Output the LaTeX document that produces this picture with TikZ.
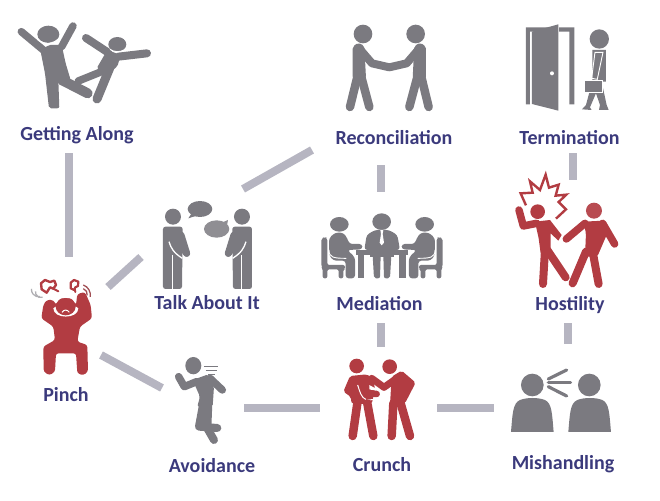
\documentclass[tikz,border=0pt]{standalone}
\usepackage{fontspec}
\setmainfont{Carlito}
\definecolor{ink}{HTML}{3B3A7C}
\definecolor{gfig}{HTML}{7B7A80}
\definecolor{gfigl}{HTML}{8F8E93}
\definecolor{rfig}{HTML}{B23C42}
\definecolor{barc}{HTML}{B6B5C1}
\tikzset{
 lab/.style={text=ink,font=\fontsize{20}{20}\selectfont\bfseries,anchor=base,inner sep=0pt},
 bar/.style={draw=barc,line width=8pt},
 zoomed/.style 2 args={shift={(#1pt,-#2pt)},x=0.3333pt,y=-0.3333pt},
 lb/.style={line width=#1*1pt,line cap=round,line join=round},
}
\begin{document}
\begin{tikzpicture}[x=1pt,y=-1pt]
\useasboundingbox (0,0) rectangle (660,500);
% labels
\node[lab] (along) at (77,140) {Getting Along};
\node[lab] (recon) at (394,144) {Reconciliation};
\node[lab] (term) at (569.5,144) {Termination};
\node[lab] (talk) at (207,309) {Talk About It};
\node[lab] (medi) at (379.5,310) {Mediation};
\node[lab] (host) at (570,310) {Hostility};
\node[lab] (pinch) at (66,401) {Pinch};
\node[lab] (avoid) at (212,472) {Avoidance};
\node[lab] (crunch) at (382,471) {Crunch};
\node[lab] (mish) at (563,469) {Mishandling};
% connector ends
\coordinate (a1) at (69,153); \coordinate (a2) at (69,257);
\coordinate (b1) at (108,287); \coordinate (b2) at (141,257);
\coordinate (c1) at (243,189); \coordinate (c2) at (312,150);
\coordinate (d1) at (101,355); \coordinate (d2) at (162,388);
\coordinate (e1) at (244,407.7); \coordinate (e2) at (320,407.7);
\coordinate (f1) at (437,407.7); \coordinate (f2) at (494,407.7);
\coordinate (g1) at (381,323); \coordinate (g2) at (381,347);
\coordinate (h1) at (381,165); \coordinate (h2) at (381,192);
\coordinate (i1) at (573.3,153); \coordinate (i2) at (573.3,180);
\coordinate (j1) at (568,323); \coordinate (j2) at (568,344);
\draw[bar] (a1)--(a2); \draw[bar] (b1)--(b2); \draw[bar] (c1)--(c2);
\draw[bar] (d1)--(d2); \draw[bar] (e1)--(e2); \draw[bar] (f1)--(f2);
\draw[bar] (g1)--(g2); \draw[bar] (h1)--(h2); \draw[bar] (i1)--(i2); \draw[bar] (j1)--(j2);
% Getting Along
\begin{scope}[zoomed={0}{0}]
 \fill[gfig] (145,103) ellipse (33 and 26);
 \fill[gfig] (352,133) ellipse (27 and 22);
 \draw[gfig,lb=7.5] (64,95)--(130,150);
 \draw[gfig,lb=7.5] (219,78)--(185,140);
 \fill[gfig,rounded corners=2pt] (122,155)--(145,135)--(185,135)--(197,190)--(212,240)--(175,240)--(178,325)--(147,325)--(135,220)--cycle;
 \draw[white,line width=1pt] (112,118) .. controls (130,135) and (160,135) .. (180,112);
 \draw[gfig,lb=10] (185,240)--(263,280);
 \draw[gfig,lb=8] (258,114)--(325,158);
 \draw[gfig,lb=8] (355,170)--(441,160);
 \fill[gfig,rounded corners=2pt] (322,150)--(362,165)--(352,200)--(312,228)--(290,205)--cycle;
 \draw[gfig,lb=7.5] (235,243)--(312,212);
 \draw[gfig,lb=9] (335,190)--(291,297);
 \draw[white,line width=1pt] (330,148) .. controls (340,156) and (360,158) .. (372,150);
\end{scope}
% Pinch
\begin{scope}[zoomed={0}{190}]
 \fill[rfig,rounded corners=2.5pt] (124,385)--(130,345)--(140,330)--(160,330)--(168,345)--(180,325)--(215,325)--(228,345)--(232,312)--(255,306)--(272,345)--(276,385)--(240,410)--(232,455)--(262,465)--(264,545)--(250,556)--(232,550)--(228,490)--(168,490)--(165,545)--(148,556)--(131,545)--(130,470)--(165,450)--(160,410)--cycle;
 \fill[white] (160,355) .. controls (160,388) and (235,388) .. (235,355) -- (228,350) -- (167,350) -- cycle;
 \fill[rfig] (197,350) ellipse (30 and 26);
 \draw[white,line width=1pt] (186,367) .. controls (192,358) and (202,358) .. (208,367);
 \draw[rfig,line width=2.4pt,line join=round] (123,280)--(135,270)--(150,276)--(163,272)--(168,285)--(160,296)--(150,292)--(140,308)--(125,298)--cycle;
 \draw[rfig,line width=2pt,line cap=round] (160,296)--(175,304);
 \draw[rfig,line width=2.2pt,line join=round] (212,278)--(222,270)--(235,275)--(234,288)--(226,292)--(222,300)--(212,295)--cycle;
 \draw[rfig,line width=2pt,line cap=round] (224,296)--(226,306);
 \draw[rfig!70!gfig,line width=1.3pt] (250,296) arc (-70:10:18);
 \draw[rfig!70!gfig,line width=1.3pt] (250,285) arc (-70:10:32);
 \draw[gfig!60,line width=1.3pt] (128,322) arc (70:190:16);
 \draw[gfig!60,line width=1.3pt] (120,320) arc (80:185:22);
\end{scope}
% Talk About It
\begin{scope}[zoomed={0}{190}]
 \foreach \c/\s in {519/1,726/-1}{
  \begin{scope}[shift={(\c*0.3333pt,0pt)},x=\s*0.3333pt]
   \fill[gfig] (0,80) circle (24);
   \fill[gfig,rounded corners=2.5pt] (-30,110)--(29,110)--(29,135)--(27,297)--(-30,297)--cycle;
   \draw[gfig,lb=7] (24,135)--(41,190);
   \draw[gfig,lb=7] (12,150)--(41,190);
   \draw[white,line width=1pt] (0,195)--(0,300);
   \draw[white,line width=1.3pt] (-12,155) .. controls (-6,175) and (2,188) .. (28,205);
  \end{scope}
 }
 \fill[gfig] (600,57) ellipse (37 and 24);
 \fill[gfig] (575,70)--(565,85)--(590,77)--cycle;
 \fill[gfigl] (650,117) ellipse (38 and 26);
 \fill[gfigl] (665,98)--(684,90)--(680,112)--cycle;
\end{scope}
% Avoidance
\begin{scope}[zoomed={0}{190}]
 \fill[gfig] (580,527) ellipse (24 and 26);
 \draw[gfig,line width=0.8pt] (612,530)--(653,530) (617,541)--(650,541) (625,552)--(645,552);
 \draw[gfig,lb=7.5] (536,560)--(553,590)--(590,575);
 \draw[gfig,lb=7.5] (630,565)--(667,600);
 \fill[gfig,rounded corners=2pt] (578,570)--(625,553)--(642,590)--(638,650)--(592,650)--(600,620)--cycle;
 \draw[gfig,lb=8] (610,640)--(597,710)--(652,714);
 \draw[gfig,lb=8] (625,640)--(622,715)--(642,750);
\end{scope}
% Reconciliation
\begin{scope}[zoomed={310}{10}]
 \foreach \c/\s in {0/1,476/-1}{
  \begin{scope}[shift={(\c*0.3333pt,0pt)},x=\s*0.3333pt]
   \fill[gfig] (159,72) circle (28);
   \fill[gfig,rounded corners=2pt] (128,110)--(145,98)--(163,108)--(168,205)--(128,205)--cycle;
   \draw[gfig,lb=8] (150,118)--(186,160)--(238,172);
   \draw[gfig,lb=8.5] (141,205)--(120,291);
   \draw[gfig,lb=8.5] (155,205)--(178,291);
  \end{scope}
 }
\end{scope}
% Termination
\begin{scope}[zoomed={310}{10}]
 \fill[gfig] (648,52)--(793,52)--(793,283)--(778,283)--(778,65)--(660,65)--(660,283)--(648,283)--cycle;
 \fill[white] (745,52) rectangle (748,65);
 \fill[gfig] (666,65)--(745,43)--(745,302)--(666,282)--cycle;
 \fill[white] (726,190) circle (6);
 \fill[gfig] (868,87) circle (29);
 \fill[gfig] (847,120)--(888,120)--(888,215)--(875,215)--(890,285)--(896,300)--(867,300)--(870,285)--(858,250)--(840,292)--(845,300)--(816,298)--(828,285)--(840,240)--(847,210)--cycle;
 \draw[white,line width=0.9pt] (855,127)--(879,127)--(862,208)--(845,205)--cycle;
 \fill[gfig,draw=white,line width=0.9pt] (823,210) rectangle (876,248);
\end{scope}
% Mediation
\begin{scope}[zoomed={310}{170}]
 \fill[gfig] (137,240) rectangle (295,256);
 \fill[gfig] (145,256) rectangle (163,325);
 \fill[gfig] (268,256) rectangle (287,325);
 \foreach \c/\s in {0/1,432/-1}{
  \begin{scope}[shift={(\c*0.3333pt,0pt)},x=\s*0.3333pt]
   \fill[gfig] (88,163) ellipse (28 and 22);
   \fill[gfig,rounded corners=2pt] (34,205)--(45,200)--(52,205)--(52,285)--(105,285)--(105,298)--(100,298)--(100,325)--(86,325)--(86,298)--(52,298)--(52,325)--(38,325)--(38,295)--(34,290)--cycle;
   \fill[gfig,rounded corners=3pt] (57,205)--(75,188)--(100,188)--(112,205)--(118,222)--(157,222)--(157,238)--(112,240)--(135,262)--(135,325)--(107,325)--(107,272)--(70,272)--(57,255)--cycle;
   \draw[white,line width=0.9pt,line cap=round] (57,240) .. controls (57,262) and (70,265) .. (108,265);
  \end{scope}
 }
 \fill[gfig] (215,155) ellipse (28 and 25);
 \fill[gfig,rounded corners=3pt] (163,240)--(170,195)--(195,180)--(237,180)--(262,195)--(270,240)--cycle;
 \fill[gfig] (180,240) rectangle (252,262);
 \fill[gfig,rounded corners=2pt] (188,256)--(212,256)--(210,325)--(192,325)--cycle;
 \fill[gfig,rounded corners=2pt] (220,256)--(244,256)--(240,325)--(222,325)--cycle;
 \fill[white] (211,180)--(220,180)--(218,192)--(222,218)--(215,226)--(209,218)--(213,192)--cycle;
\end{scope}
% Hostility
\begin{scope}[zoomed={310}{170}]
 \draw[rfig,line width=2.4pt,miter limit=10] (648,106)--(632,70)--(668,68)--(660,34)--(690,60)--(707,14)--(717,53)--(746,44)--(737,77)--(769,74)--(746,96)--(768,118)--(738,146);
 \fill[rfig] (683,125) circle (22);
 \draw[rfig,lb=7.5] (627,120)--(640,168)--(680,160);
 \fill[rfig] (675,155)--(720,150)--(755,195)--(745,212)--(722,190)--(722,250)--(692,250)--(686,205)--cycle;
 \draw[rfig,lb=8] (705,240)--(699,342);
 \draw[rfig,lb=8] (712,240)--(767,322);
 \fill[rfig!92!white] (852,122) circle (24);
 \fill[rfig,rounded corners=2pt] (820,155)--(880,152)--(890,195)--(862,260)--(825,260)--(828,190)--cycle;
 \draw[rfig,lb=7.5] (825,160)--(769,207);
 \draw[rfig,lb=7.5] (878,160)--(914,222);
 \draw[rfig,lb=8] (828,245)--(788,340);
 \draw[rfig,lb=8] (848,245)--(866,342);
\end{scope}
% Crunch
\begin{scope}[zoomed={310}{340}]
 \fill[rfig] (140,78) circle (22);
 \fill[rfig] (239,80) circle (22);
 \fill[rfig,rounded corners=2pt] (120,108)--(170,103)--(190,115)--(195,150)--(185,192)--(125,192)--(122,170)--(100,155)--cycle;
 \draw[rfig,lb=7] (185,115)--(222,142)--(270,108);
 \fill[white] (178,135) -- (205,150) -- (205,154) -- (178,148) -- cycle;
 \draw[rfig,lb=6.5] (160,158)--(200,162);
 \draw[white,line width=1pt] (143,135) .. controls (150,155) and (152,172) .. (170,180) -- (205,178);
 \draw[rfig,lb=8.5] (142,190)--(128,288);
 \draw[rfig,lb=8.5] (172,190)--(190,288);
 \fill[rfig,rounded corners=2pt] (245,110)--(275,92)--(317,128)--(285,190)--(240,195)--cycle;
 \draw[rfig,lb=8.5] (250,190)--(245,288);
 \draw[rfig,lb=8.5] (272,190)--(300,288);
\end{scope}
% Mishandling
\begin{scope}[zoomed={310}{340}]
 \fill[gfig] (667,135) circle (34);
 \fill[gfig] (838,135) circle (34);
 \fill[gfig] (603,276) .. controls (608,220) and (608,190) .. (630,180) .. controls (650,172) and (685,172) .. (705,180) .. controls (726,190) and (726,220) .. (731,276) -- cycle;
 \fill[gfig] (775,276) .. controls (780,220) and (780,190) .. (802,180) .. controls (822,172) and (857,172) .. (877,180) .. controls (898,190) and (898,220) .. (903,276) -- cycle;
 \draw[gfig,lb=3.2] (715,117)--(770,90);
 \draw[gfig,lb=3.2] (715,128)--(782,128);
 \draw[gfig,lb=3.2] (715,140)--(770,168);
\end{scope}
\end{tikzpicture}
\end{document}
